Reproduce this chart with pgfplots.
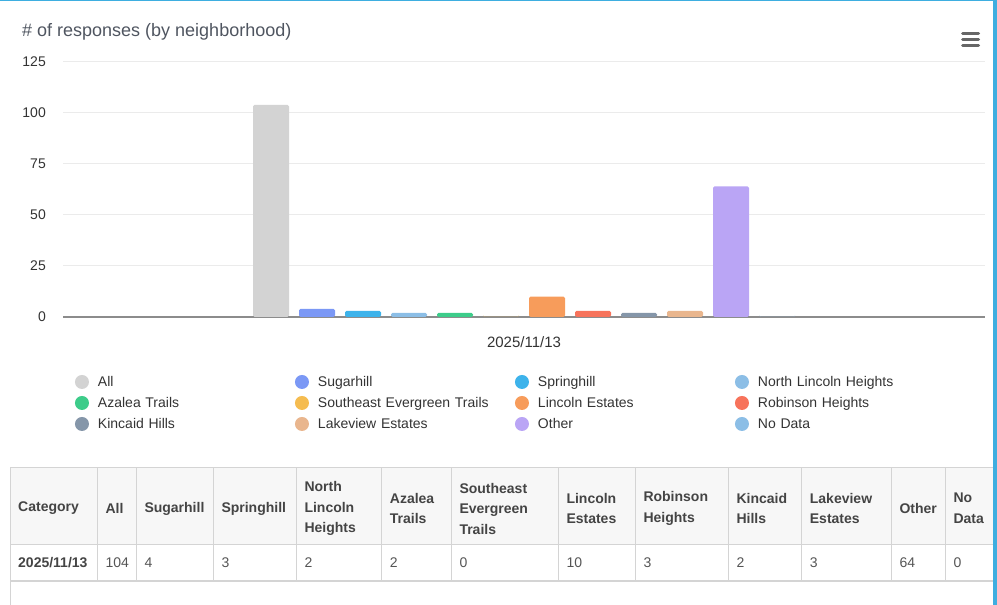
\documentclass[border=0pt]{standalone}
\usepackage{fontspec}
\setmainfont{Liberation Sans}
\usepackage{pgfplots}
\pgfplotsset{compat=1.18}
\definecolor{cAll}{HTML}{D3D3D3}
\definecolor{cSug}{HTML}{7B98F5}
\definecolor{cSpr}{HTML}{3DB3EB}
\definecolor{cNLH}{HTML}{8CBEE6}
\definecolor{cAza}{HTML}{3DCC8A}
\definecolor{cSEE}{HTML}{F5BC50}
\definecolor{cLin}{HTML}{F79C5B}
\definecolor{cRob}{HTML}{F7735B}
\definecolor{cKin}{HTML}{8596A9}
\definecolor{cLak}{HTML}{E9B68E}
\definecolor{cOth}{HTML}{BAA5F5}
\definecolor{cNoD}{HTML}{8CBEE6}
\definecolor{titlec}{HTML}{4F5560}
\definecolor{txtc}{HTML}{333333}
\definecolor{gridc}{HTML}{EBEBEB}
\definecolor{basec}{HTML}{8C8C8C}
\definecolor{headbg}{HTML}{F7F7F7}
\definecolor{rulec}{HTML}{D4D4D4}
\definecolor{headc}{HTML}{444444}
\definecolor{datac}{HTML}{555555}
\definecolor{framec}{HTML}{3EAEE0}
\definecolor{iconc}{HTML}{666666}

\begin{document}
\begin{tikzpicture}
\path[use as bounding box] (0pt,0pt) rectangle (997pt,605pt);
\begin{axis}[
  at={(63pt,288pt)}, anchor=south west, scale only axis,
  width=922pt, height=255pt,
  xmin=-1, xmax=1, ymin=0, ymax=125,
  ytick={0,25,50,75,100,125}, xtick={0}, xticklabels={2025/11/13},
  ybar=10pt, bar width=36pt,
  axis x line=bottom, axis y line=left,
  x axis line style={draw=basec, line width=2pt, -},
  y axis line style={draw=none},
  major tick length=0pt,
  ymajorgrids, grid style={gridc, line width=1pt},
  /pgf/number format/assume math mode=true,
  yticklabel style={font=\fontsize{14}{16}\selectfont, text=txtc, inner sep=0pt, xshift=-17pt},
  xticklabel style={font=\fontsize{15}{17}\selectfont, text=txtc, inner sep=0pt, anchor=north, yshift=-19pt},
  title={\# of responses (by neighborhood)},
  title style={at={(axis description cs:-0.0445,1.0745)}, anchor=base west, inner sep=0pt,
    font=\fontsize{18}{20}\selectfont, text=titlec},
  legend columns=4,
  legend image code/.code={\fill[#1,draw=none] (7pt,5pt) circle (7pt);},
  legend style={at={(axis description cs:0.013,-0.2274)}, anchor=north west,
    draw=none, fill=none, inner sep=0pt, outer sep=0pt, row sep=6pt,
    font=\fontsize{14}{16}\selectfont, text=txtc,
    /tikz/every odd column/.append style={column sep=9pt},
    nodes={inner sep=0pt, text width=197pt, align=left, text height=12pt, text depth=3pt, anchor=base west}},
]
\addplot[fill=cAll, draw=none, rounded corners=1.5pt] coordinates {(0,104)};
\addplot[fill=cSug, draw=none, rounded corners=1.5pt] coordinates {(0,4)};
\addplot[fill=cSpr, draw=none, rounded corners=1.5pt] coordinates {(0,3)};
\addplot[fill=cNLH, draw=none, rounded corners=1.5pt] coordinates {(0,2)};
\addplot[fill=cAza, draw=none, rounded corners=1.5pt] coordinates {(0,2)};
\addplot[fill=cSEE, draw=none, rounded corners=1.5pt] coordinates {(0,0)};
\addplot[fill=cLin, draw=none, rounded corners=1.5pt] coordinates {(0,10)};
\addplot[fill=cRob, draw=none, rounded corners=1.5pt] coordinates {(0,3)};
\addplot[fill=cKin, draw=none, rounded corners=1.5pt] coordinates {(0,2)};
\addplot[fill=cLak, draw=none, rounded corners=1.5pt] coordinates {(0,3)};
\addplot[fill=cOth, draw=none, rounded corners=1.5pt] coordinates {(0,64)};
\addplot[fill=cNoD, draw=none, rounded corners=1.5pt] coordinates {(0,0)};
\legend{All,Sugarhill,Springhill,North Lincoln Heights,Azalea Trails,Southeast Evergreen Trails,Lincoln Estates,Robinson Heights,Kincaid Hills,Lakeview Estates,Other,No Data}
\end{axis}

\begin{scope}[x=1pt,y=1pt]
% frame and menu icon
\fill[framec] (0,603.5) rectangle (993,605);
\fill[framec] (992.5,0) rectangle (997,605);
\draw[iconc, line width=3pt, line cap=round] (962.5,571.5) -- (978.5,571.5);
\draw[iconc, line width=3pt, line cap=round] (962.5,565) -- (978.5,565);
\draw[iconc, line width=3pt, line cap=round] (962.5,559.5) -- (978.5,559.5);
% data table
\fill[headbg] (10,60) rectangle (992.5,137);
\draw[rulec, line width=1pt] (10,137) -- (992.5,137);
\draw[rulec, line width=1pt] (10,60) -- (992.5,60);
\draw[rulec, line width=2pt] (10,24) -- (992.5,24);
\draw[rulec, line width=1pt] (10,137) -- (10,0);
\foreach \x in {97.3,136.3,213.3,296.3,381.7,451.3,558.3,635.3,728.3,801.7,891.3,945.3}
  \draw[rulec, line width=1pt] (\x,137) -- (\x,24);
\foreach \x/\t in {10/Category, 97.3/All, 136.3/Sugarhill, 213.3/Springhill,
    296.3/{North\\Lincoln\\Heights}, 381.7/{Azalea\\Trails}, 451.3/{Southeast\\Evergreen\\Trails},
    558.3/{Lincoln\\Estates}, 635.3/{Robinson\\Heights}, 728.3/{Kincaid\\Hills},
    801.7/{Lakeview\\Estates}, 891.3/Other, 945.3/{No\\Data}}
  \node[anchor=west, align=left, inner sep=0pt, text=headc,
    font=\fontsize{14}{20.5}\selectfont\bfseries] at (\x+8,96.5) {\t};
\node[anchor=west, inner sep=0pt, text=headc, font=\fontsize{14}{16}\selectfont\bfseries]
  at (18,42) {2025/11/13};
\foreach \x/\t in {97.3/104, 136.3/4, 213.3/3, 296.3/2, 381.7/2, 451.3/0, 558.3/10,
    635.3/3, 728.3/2, 801.7/3, 891.3/64, 945.3/0}
  \node[anchor=west, inner sep=0pt, text=datac, font=\fontsize{14}{16}\selectfont] at (\x+8,42) {\t};
\end{scope}
\end{tikzpicture}
\end{document}
